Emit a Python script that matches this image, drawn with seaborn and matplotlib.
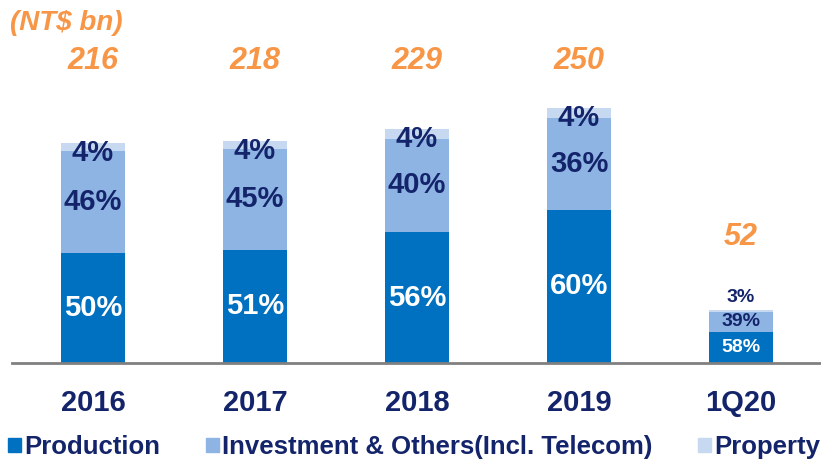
import pandas as pd
import matplotlib.pyplot as plt
import seaborn as sns
from matplotlib.patches import Patch

# Data
periods = ["2016", "2017", "2018", "2019", "1Q20"]
totals = [216, 218, 229, 250, 52]
production_pct = [50, 51, 56, 60, 58]
investment_pct = [46, 45, 40, 36, 39]
property_pct = [4, 4, 4, 4, 3]

series_names = ["Production", "Investment & Others(Incl. Telecom)", "Property"]

# Colours
c_prod = "#0070C0"
c_inv = "#8EB4E3"
c_prop = "#C6D9F1"
navy = "#14246B"
orange = "#F79646"

df = pd.DataFrame({
    "period": periods,
    "total": totals,
    "prod": production_pct,
    "inv": investment_pct,
    "prop": property_pct,
})
df["prod_top"] = df["total"] * df["prod"] / 100
df["inv_top"] = df["total"] * (df["prod"] + df["inv"]) / 100

sns.set_style("white")
plt.rcParams["font.family"] = ["Liberation Sans", "DejaVu Sans"]
plt.rcParams["font.weight"] = "bold"

fig = plt.figure(figsize=(8.21, 4.59), dpi=100)
ax = fig.add_axes([12 / 821, 96 / 459, 810 / 821, 347 / 459])

# stacked bars: draw cumulative tops, largest first
for col, c in [("total", c_prop), ("inv_top", c_inv), ("prod_top", c_prod)]:
    sns.barplot(data=df, x="period", y=col, color=c, width=0.4,
                saturation=1, linewidth=0, ax=ax)

ax.set_xlim(-0.5, 4.5)
ax.set_ylim(0, 340)
ax.set_xlabel("")
ax.set_ylabel("")
ax.set_yticks([])
for s in ["top", "right", "left"]:
    ax.spines[s].set_visible(False)
ax.spines["bottom"].set_color("#808080")
ax.spines["bottom"].set_linewidth(2)

ax.set_xticks(range(len(periods)))
ax.set_xticklabels(periods, fontsize=21, fontweight="bold", color=navy)
ax.tick_params(axis="x", which="major", length=0, pad=19)
ax.set_xticks([i - 0.5 for i in range(len(periods) + 1)], minor=True)
ax.tick_params(axis="x", which="minor", length=8, width=1.5,
               color="#808080", direction="out")

# labels
for i, row in df.iterrows():
    last = row["period"] == "1Q20"
    fs = 14 if last else 21
    ax.text(i, row["prod_top"] / 2, f"{row['prod']}%", ha="center",
            va="center", color="white", fontsize=fs, fontweight="bold")
    ax.text(i, (row["prod_top"] + row["inv_top"]) / 2, f"{row['inv']}%",
            ha="center", va="center", color=navy, fontsize=fs,
            fontweight="bold")
    if last:
        ax.text(i, row["total"] + 12, f"{row['prop']}%", ha="center",
                va="center", color=navy, fontsize=fs, fontweight="bold")
        ax.text(i, 123, f"{row['total']}", ha="center", va="center",
                color=orange, fontsize=22, fontweight="bold",
                fontstyle="italic")
    else:
        ax.text(i, row["total"] - 10, f"{row['prop']}%", ha="center",
                va="center", color=navy, fontsize=fs, fontweight="bold")
        ax.text(i, 296, f"{row['total']}", ha="center", va="center",
                color=orange, fontsize=22, fontweight="bold",
                fontstyle="italic", clip_on=False)

fig.text(10 / 821, 1 - 23 / 459, "(NT$ bn)", ha="left", va="center",
         color=orange, fontsize=20, fontweight="bold", fontstyle="italic")

handles = [Patch(color=c) for c in [c_prod, c_inv, c_prop]]
fig.legend(handles, series_names, loc="center left",
           bbox_to_anchor=(8 / 821, 12 / 459), ncol=3, frameon=False,
           handlelength=0.5, handleheight=0.5, handletextpad=0.15,
           columnspacing=1.75, borderaxespad=0, borderpad=0,
           prop={"size": 18.5, "weight": "bold"}, labelcolor=navy)

fig.savefig("out.png", dpi=100)
